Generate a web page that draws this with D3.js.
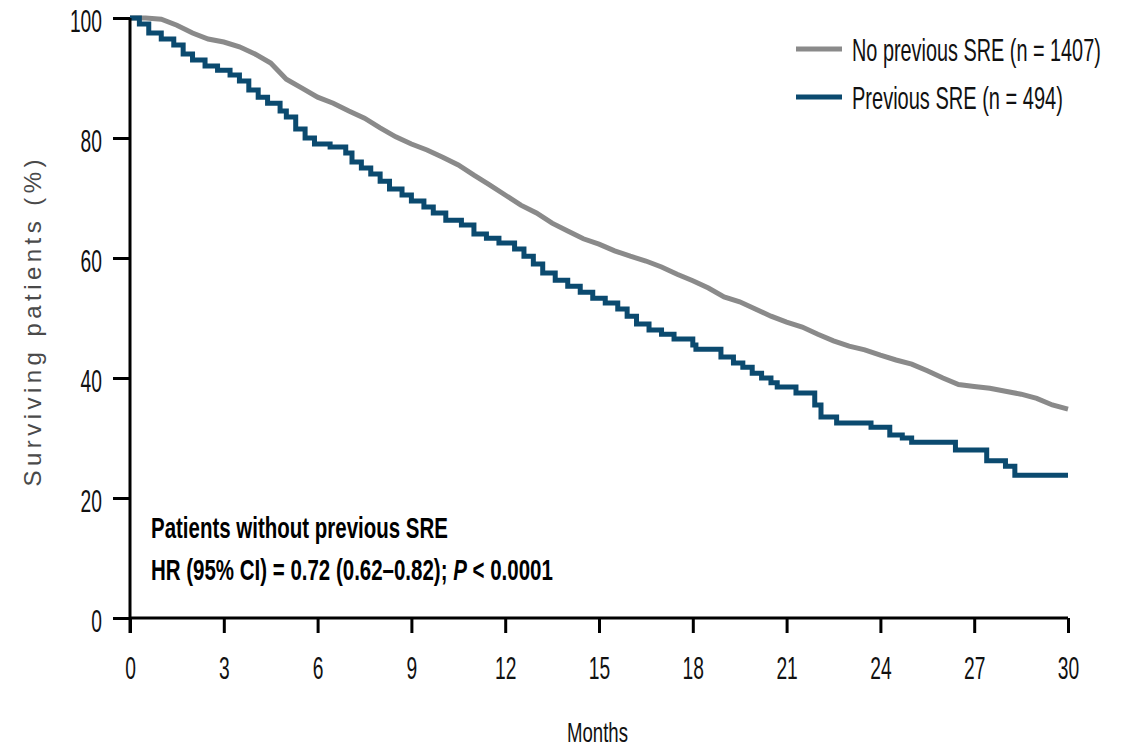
<!DOCTYPE html>
<html>
<head>
<meta charset="utf-8">
<script src="https://cdn.jsdelivr.net/npm/d3@7"></script>
<style>
  html, body { margin: 0; padding: 0; background: #fff; }
  svg { display: block; }
</style>
</head>
<body>
<svg id="chart" width="1128" height="748"></svg>
<script>
// ---- Data ----
const xTicks = [0, 3, 6, 9, 12, 15, 18, 21, 24, 27, 30];
const yTicks = [0, 20, 40, 60, 80, 100];

// No previous SRE (n = 1407): months / surviving %
const noPrevMonths = [0, 0.5, 1.0, 1.5, 2.0, 2.5, 3.0, 3.5, 4.0, 4.5, 5.0, 5.5, 6.0, 6.5, 7.0, 7.5, 8.0, 8.5, 9.0, 9.5,
  10.0, 10.5, 11.0, 11.5, 12.0, 12.5, 13.0, 13.5, 14.0, 14.5, 15.0, 15.5, 16.0, 16.5, 17.0, 17.5, 18.0, 18.5, 19.0, 19.5,
  20.0, 20.5, 21.0, 21.5, 22.0, 22.5, 23.0, 23.5, 24.0, 24.5, 25.0, 25.5, 26.0, 26.5, 27.0, 27.5, 28.0, 28.5, 29.0, 29.5, 30.0];
const noPrevValues = [100, 100, 99.8, 98.8, 97.5, 96.5, 96.0, 95.2, 94.0, 92.5, 89.8, 88.3, 86.8, 85.8, 84.5, 83.3, 81.7, 80.2, 79.0, 78.0,
  76.8, 75.5, 73.8, 72.2, 70.5, 68.8, 67.5, 65.8, 64.5, 63.2, 62.3, 61.2, 60.3, 59.5, 58.5, 57.3, 56.2, 55.0, 53.5, 52.7,
  51.5, 50.3, 49.3, 48.5, 47.3, 46.2, 45.3, 44.7, 43.8, 43.0, 42.3, 41.2, 40.0, 38.9, 38.6, 38.3, 37.8, 37.3, 36.6, 35.5, 34.8];

// Previous SRE (n = 494): months / surviving %
const prevMonths = [0, 0.3, 0.6, 1.0, 1.4, 1.7, 2.0, 2.4, 2.8, 3.2, 3.5, 3.8, 4.1, 4.4, 4.8, 5.0, 5.3, 5.6, 5.9, 6.4,
  6.9, 7.1, 7.4, 7.7, 8.0, 8.3, 8.7, 9.0, 9.4, 9.7, 10.1, 10.6, 11.0, 11.4, 11.8, 12.3, 12.6, 12.9, 13.2, 13.6,
  14.0, 14.4, 14.8, 15.2, 15.6, 15.9, 16.2, 16.6, 17.0, 17.4, 18.0, 18.1, 18.9, 19.3, 19.6, 19.9, 20.2, 20.5, 20.7, 21.3,
  21.9, 22.1, 22.6, 23.7, 24.3, 24.7, 25.0, 26.4, 27.4, 28.0, 28.3, 30.0];
const prevValues = [100, 99.0, 97.5, 96.5, 95.5, 94.0, 93.0, 92.0, 91.3, 90.5, 89.5, 88.0, 86.8, 85.8, 84.5, 83.5, 81.5, 80.0, 79.0, 78.5,
  77.5, 76.0, 75.0, 74.0, 72.8, 71.5, 70.5, 69.5, 68.5, 67.5, 66.3, 65.5, 64.0, 63.3, 62.5, 61.5, 60.3, 59.0, 57.5, 56.3,
  55.3, 54.3, 53.3, 52.5, 51.5, 50.3, 49.0, 48.0, 47.3, 46.5, 45.5, 44.8, 43.5, 42.5, 41.8, 40.8, 40.0, 39.2, 38.5, 37.5,
  35.5, 33.5, 32.5, 31.8, 30.5, 30.0, 29.3, 28.0, 26.2, 25.3, 23.8, 23.8];

const seriesNames = ["No previous SRE (n = 1407)", "Previous SRE (n = 494)"];
const seriesColors = ["#8a8a8a", "#0b4a6f"];

// ---- Layout ----
const svg = d3.select("#chart");
const x = d3.scaleLinear().domain([0, 30]).range([130, 1068]);
const y = d3.scaleLinear().domain([0, 100]).range([618, 18]);

const font = '"Liberation Sans", Arial, sans-serif';
const SQUEEZE = 0.62; // the reference uses a condensed face

// squeeze a text horizontally to a factor of its natural width
function condense(sel, factor) {
  sel.each(function () {
    const w = this.getComputedTextLength() * factor;
    d3.select(this).attr("textLength", w).attr("lengthAdjust", "spacingAndGlyphs");
  });
}
// place a text (anchored at start) and scale it horizontally to a target width
function fitText(sel, tx, ty, width) {
  const natural = sel.node().getComputedTextLength();
  sel.attr("x", 0).attr("y", 0)
    .attr("transform", `translate(${tx},${ty}) scale(${width / natural},1)`);
}

// Curves
const noPrev = noPrevMonths.map((m, i) => [m, noPrevValues[i]]);
const prev = prevMonths.map((m, i) => [m, prevValues[i]]);

svg.append("path").datum(noPrev)
  .attr("d", d3.line().x(d => x(d[0])).y(d => y(d[1])).curve(d3.curveLinear))
  .attr("fill", "none").attr("stroke", seriesColors[0]).attr("stroke-width", 5);
svg.append("path").datum(prev)
  .attr("d", d3.line().x(d => x(d[0])).y(d => y(d[1])).curve(d3.curveStepAfter))
  .attr("fill", "none").attr("stroke", seriesColors[1]).attr("stroke-width", 5);

// Axes
const xAxis = svg.append("g").attr("transform", `translate(0,${y(0)})`)
  .call(d3.axisBottom(x).tickValues(xTicks).tickSize(15).tickPadding(24).tickSizeOuter(0));
const yAxis = svg.append("g").attr("transform", `translate(${x(0)},0)`)
  .call(d3.axisLeft(y).tickValues(yTicks).tickSize(17).tickPadding(11).tickSizeOuter(0));

[xAxis, yAxis].forEach(g => {
  g.select(".domain").attr("stroke", "#000").attr("stroke-width", 3);
  g.selectAll(".tick line").attr("stroke", "#000").attr("stroke-width", 3);
  g.selectAll(".tick text").attr("font-family", font).attr("font-size", 31).attr("fill", "#111");
});
yAxis.selectAll(".tick text").attr("dy", "0.45em");
xAxis.selectAll(".tick text").attr("dy", "0.71em");
condense(xAxis.selectAll(".tick text"), SQUEEZE);
condense(yAxis.selectAll(".tick text"), SQUEEZE);
yAxis.select(".domain").attr("d", `M0,${y(100)}V${y(0) + 15}`);
xAxis.select(".domain").attr("d", `M${x(0)},0H${x(30)}`);

// Axis titles
svg.append("text")
  .attr("transform", `translate(41,${(y(0) + y(100)) / 2 + 5}) rotate(-90)`)
  .attr("text-anchor", "middle")
  .attr("font-family", font)
  .attr("font-size", 24).attr("fill", "#4a4a4a")
  .attr("textLength", 327).attr("lengthAdjust", "spacing")
  .text("Surviving patients (%)");

const months = svg.append("text")
  .attr("font-family", font).attr("font-size", 28).attr("fill", "#111")
  .text("Months");
fitText(months, 567, 742, 61);

// Legend
const legendWidths = [249, 211];
seriesNames.forEach((name, i) => {
  const ly = 49 + i * 48;
  svg.append("line").attr("x1", 796).attr("x2", 842).attr("y1", ly).attr("y2", ly)
    .attr("stroke", seriesColors[i]).attr("stroke-width", 5);
  const t = svg.append("text")
    .attr("font-family", font).attr("font-size", 31).attr("fill", "#111")
    .text(name);
  fitText(t, 852, ly + 12, legendWidths[i]);
});

// Annotation
const ann = svg.append("g").attr("font-family", font).attr("font-size", 29)
  .attr("font-weight", "bold").attr("fill", "#000");
const t1 = ann.append("text").text("Patients without previous SRE");
fitText(t1, 151, 538, 297);
const t2 = ann.append("text");
t2.append("tspan").text("HR (95% CI) = 0.72 (0.62\u20130.82); ");
t2.append("tspan").attr("font-style", "italic").text("P");
t2.append("tspan").text(" < 0.0001");
fitText(t2, 151, 580, 402);
</script>
</body>
</html>
